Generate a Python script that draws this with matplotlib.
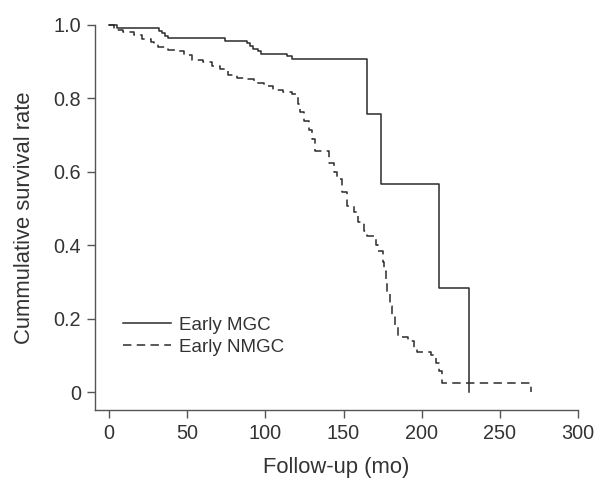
import matplotlib
matplotlib.use("Agg")
import matplotlib.pyplot as plt

plt.rcParams['font.family'] = ['Liberation Sans', 'DejaVu Sans']

# Early MGC (solid) step curve: times and survival after each step
mgc_t = [0, 5, 32, 34, 36, 38, 74, 88, 90, 92, 95, 97, 114, 117, 165, 174, 211, 230]
mgc_s = [1.0, 0.992, 0.985, 0.978, 0.970, 0.964, 0.957, 0.950, 0.943, 0.936, 0.929,
         0.922, 0.915, 0.908, 0.758, 0.567, 0.283, 0.0]

# Early NMGC (dashed) step curve
nmgc_t = [0, 3, 9, 16, 21, 27, 29, 31, 38, 43, 48, 53, 60, 66, 71, 76, 82, 87, 93, 99,
          101, 105, 111, 117, 121, 122, 125, 128, 130, 132, 141, 144, 146, 149, 152,
          157, 159, 163, 165, 171, 172, 175, 176, 177, 178, 180, 181, 183, 185, 191,
          195, 197, 206, 209, 211, 213, 270]
nmgc_s = [1.0, 0.987, 0.980, 0.973, 0.963, 0.955, 0.948, 0.940, 0.933, 0.928, 0.917,
          0.906, 0.900, 0.888, 0.879, 0.865, 0.857, 0.852, 0.843, 0.837, 0.834, 0.824,
          0.817, 0.811, 0.784, 0.762, 0.740, 0.713, 0.690, 0.657, 0.625, 0.600, 0.580,
          0.545, 0.507, 0.490, 0.465, 0.440, 0.427, 0.400, 0.384, 0.355, 0.330, 0.300,
          0.270, 0.235, 0.210, 0.180, 0.150, 0.140, 0.120, 0.109, 0.103, 0.080, 0.057,
          0.026, 0.0]

x_ticks = [0, 50, 100, 150, 200, 250, 300]
y_ticks = [0, 0.2, 0.4, 0.6, 0.8, 1.0]
y_labels = ["0", "0.2", "0.4", "0.6", "0.8", "1.0"]

line_color = "#2b2b2b"
text_color = "#333333"
fs_tick = 14.3
fs_label = 15.8
fs_leg = 13.5

fig = plt.figure(figsize=(5.98, 4.78), dpi=100)
ax = fig.add_axes([95/598, 1 - 410/478, (578 - 95)/598, (410 - 25)/478])

ax.step(mgc_t, mgc_s, where='post', color=line_color, lw=1.1, label="Early MGC",
        clip_on=False)
ax.step(nmgc_t, nmgc_s, where='post', color=line_color, lw=1.1,
        linestyle=(0, (5.5, 3.5)), label="Early NMGC", clip_on=False)

ax.set_xlim(-9, 300)
ax.set_ylim(-0.048, 1.0)
ax.set_xticks(x_ticks)
ax.set_xticklabels([str(v) for v in x_ticks])
ax.set_yticks(y_ticks)
ax.set_yticklabels(y_labels)

for side in ['top', 'right']:
    ax.spines[side].set_visible(False)
for side in ['left', 'bottom']:
    ax.spines[side].set_color("#555555")
    ax.spines[side].set_linewidth(1.0)

ax.tick_params(direction='out', length=6, width=1.0, color="#555555",
               labelsize=fs_tick, labelcolor=text_color, pad=4)

ax.set_xlabel("Follow-up (mo)", fontsize=fs_label, color=text_color, labelpad=10)
ax.set_ylabel("Cummulative survival rate", fontsize=fs_label, color=text_color,
              labelpad=13)

leg = ax.legend(loc='upper left', bbox_to_anchor=(114/598, 1 - 307/478),
                bbox_transform=fig.transFigure, frameon=False, fontsize=fs_leg,
                handlelength=2.56, handletextpad=0.43, borderpad=0, labelspacing=0.26)
for t in leg.get_texts():
    t.set_color(text_color)

fig.savefig("out.png", dpi=100)
